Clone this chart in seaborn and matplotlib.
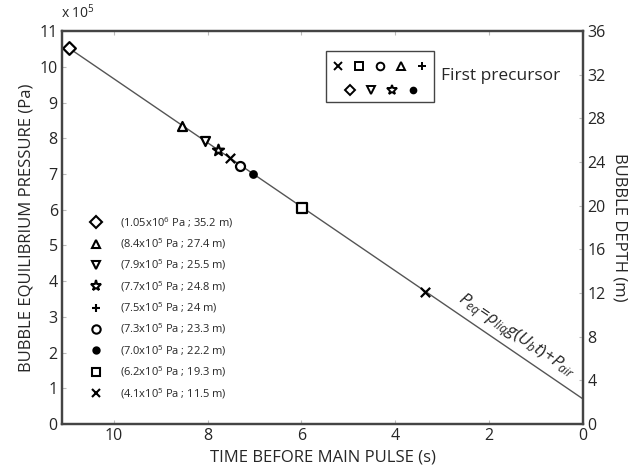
import matplotlib
matplotlib.use("Agg")
import matplotlib.pyplot as plt
import seaborn as sns
import pandas as pd
from matplotlib.patches import Rectangle

# ---- data ----
times = [10.96, 8.55, 8.06, 7.77, 7.53, 7.30, 7.04, 5.98, 3.36]          # s before main pulse
pressures = [10.53, 8.35, 7.93, 7.67, 7.45, 7.23, 7.00, 6.05, 3.70]       # x 1e5 Pa
markers = ["D", "^", "v", "*", "x", "o", "o", "s", "x"]
fills = [False, False, False, False, True, False, True, False, True]

line_t = [10.96, 0.0]
line_p = [10.53, 0.70]

list_markers = ["D", "^", "v", "*", "+", "o", "o", "s", "x"]
list_fills = [False, False, False, False, True, False, True, False, True]
list_labels = [
    r"(1.05x10$^{6}$ Pa ; 35.2 m)",
    r"(8.4x10$^{5}$ Pa ; 27.4 m)",
    r"(7.9x10$^{5}$ Pa ; 25.5 m)",
    r"(7.7x10$^{5}$ Pa ; 24.8 m)",
    r"(7.5x10$^{5}$ Pa ; 24 m)",
    r"(7.3x10$^{5}$ Pa ; 23.3 m)",
    r"(7.0x10$^{5}$ Pa ; 22.2 m)",
    r"(6.2x10$^{5}$ Pa ; 19.3 m)",
    r"(4.1x10$^{5}$ Pa ; 11.5 m)",
]
box_row1 = ["x", "s", "o", "^", "+"]
box_row2 = ["D", "v", "*", "o"]
box_row2_fill = [False, False, False, True]

x_ticks = [0, 2, 4, 6, 8, 10]
y_ticks = list(range(0, 12))
depth_ticks = list(range(0, 37, 4))

sns.set_style("white")
plt.rcParams["font.family"] = ["Open Sans", "DejaVu Sans"]
plt.rcParams["mathtext.fontset"] = "custom"
plt.rcParams["mathtext.rm"] = "Open Sans"
plt.rcParams["mathtext.it"] = "Open Sans:italic"

fig = plt.figure(figsize=(6.34, 4.70), dpi=100)
ax = fig.add_axes([0.0978, 0.0979, 0.8218, 0.836])

df_line = pd.DataFrame({"t": line_t, "p": line_p})
sns.lineplot(data=df_line, x="t", y="p", ax=ax, color="#555555", lw=1.0)


def style(m, filled, size):
    if m in ("x", "+") or filled:
        return dict(color="black", markersize=size * (0.75 if (filled and m == "o") else 1))
    return dict(mfc="white", mec="black", markersize=size)


for t, p, m, f in zip(times, pressures, markers, fills):
    if m in ("x", "+") or f:
        kw = dict(facecolor="black", edgecolor="black")
    else:
        kw = dict(facecolor="white", edgecolor="black")
    size = 42
    if f and m == "o":
        size = 22
    if m == "*":
        size = 70
    if m == "x":
        size = 45
    sns.scatterplot(x=[t], y=[p], ax=ax, zorder=3, marker=m, s=size, linewidth=1.6, **kw)

ax.set_xlim(11.1, 0)
ax.set_ylim(0, 11)
ax.set_xticks(x_ticks)
ax.set_yticks(y_ticks)
ax.tick_params(direction="in", length=3, color="#bbbbbb", labelsize=11.5, top=True,
               bottom=True, left=True, pad=3)
for s in ax.spines.values():
    s.set_color("#444444")
    s.set_linewidth(1.6)
ax.set_xlabel("TIME BEFORE MAIN PULSE (s)", fontsize=12, labelpad=4)
ax.set_ylabel("BUBBLE EQUILIBRIUM PRESSURE (Pa)", fontsize=12, labelpad=4)

ax2 = ax.twinx()
ax2.set_ylim(0, 36)
ax2.set_yticks(depth_ticks)
ax2.tick_params(direction="in", length=3, color="#bbbbbb", labelsize=11.5, right=True, pad=3)
for s in ax2.spines.values():
    s.set_color("#444444")
    s.set_linewidth(1.6)
ax2.set_ylabel("BUBBLE DEPTH (m)", fontsize=12, rotation=270, labelpad=16)

fig.text(0.097, 0.962, r"x 10$^{5}$", fontsize=10)

# list legend
for i, (m, f, lab) in enumerate(zip(list_markers, list_fills, list_labels)):
    y = 0.513 - i * 0.0543
    sz = 6 if m != "*" else 8
    ax.plot([0.065], [y], marker=m, linestyle="none", mew=1.5, transform=ax.transAxes,
            **style(m, f, sz))
    ax.text(0.111, y, lab, transform=ax.transAxes, fontsize=8, va="center")

# boxed legend
ax.add_patch(Rectangle((0.507, 0.820), 0.207, 0.129, transform=ax.transAxes,
                       fill=False, edgecolor="#444444", lw=1.0))
for m, x in zip(box_row1, [0.530, 0.570, 0.610, 0.651, 0.691]):
    ax.plot([x], [0.911], marker=m, linestyle="none", mew=1.4, transform=ax.transAxes,
            **style(m, False, 5.5))
for m, f, x in zip(box_row2, box_row2_fill, [0.553, 0.593, 0.633, 0.674]):
    sz = 5.5 if m != "*" else 7.5
    ax.plot([x], [0.850], marker=m, linestyle="none", mew=1.4, transform=ax.transAxes,
            **style(m, f, sz))
ax.text(0.727, 0.886, "First precursor", transform=ax.transAxes, fontsize=12.5, va="center")

ax.text(1.45, 2.36, r"$P_{eq}$=$\rho_{liq}g(U_bt)$+$P_{air}$", fontsize=12.5,
        rotation=-34, ha="center", va="baseline", rotation_mode="anchor")

fig.savefig("out.png", dpi=100)
